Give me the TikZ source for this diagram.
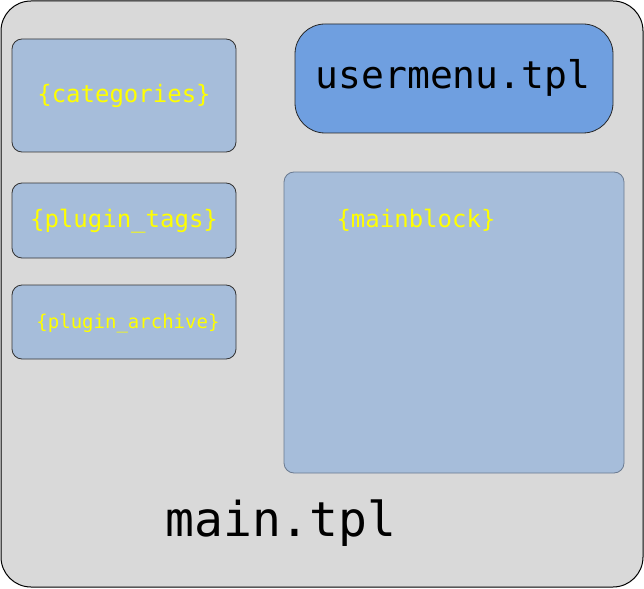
\documentclass[tikz,border=0pt]{standalone}
\usepackage{fontspec}
\setmonofont{DejaVu Sans Mono}
\definecolor{outerfill}{HTML}{D9D9D9}
\definecolor{boxfill}{HTML}{A6BDDA}
\definecolor{menufill}{HTML}{6F9FE0}
\definecolor{blockedge}{HTML}{6A7A90}
\definecolor{txtyellow}{HTML}{FFFF00}
\begin{document}
\begin{tikzpicture}[x=1pt,y=-1pt,
  outer/.style={draw=black,line width=1pt,fill=outerfill,rounded corners=30pt},
  slot/.style={draw=black!80,line width=0.8pt,fill=boxfill,rounded corners=10pt},
  menu/.style={draw=black!85,line width=0.8pt,fill=menufill,rounded corners=30pt},
  slottext/.style={text=txtyellow,font=\ttfamily\fontsize{24}{28}\selectfont},
  bigtext/.style={text=black,font=\ttfamily\fontsize{38}{44}\selectfont}]
\useasboundingbox (0,0) rectangle (644,588);
\draw[outer] (1,1) rectangle (643,587);
\draw[slot] (12,39) rectangle (236,152);
\draw[slot] (12,183) rectangle (236,258);
\draw[slot] (12,285) rectangle (236,359);
\draw[slot,draw=blockedge] (284,172) rectangle (624,473);
\draw[menu] (295,24) rectangle (613,133);
\node[slottext] (cat) at (124,96) {\{categories\}};
\node[slottext] (tags) at (124,221) {\{plugin\_tags\}};
\node[slottext,font=\ttfamily\fontsize{19}{22}\selectfont] (arch) at (128,323) {\{plugin\_archive\}};
\node[slottext] (mb) at (416,220) {\{mainblock\}};
\node[bigtext] (um) at (453,78) {usermenu.tpl};
\node[bigtext,font=\ttfamily\fontsize{48}{56}\selectfont] (mt) at (281,523) {main.tpl};
\end{tikzpicture}
\end{document}
